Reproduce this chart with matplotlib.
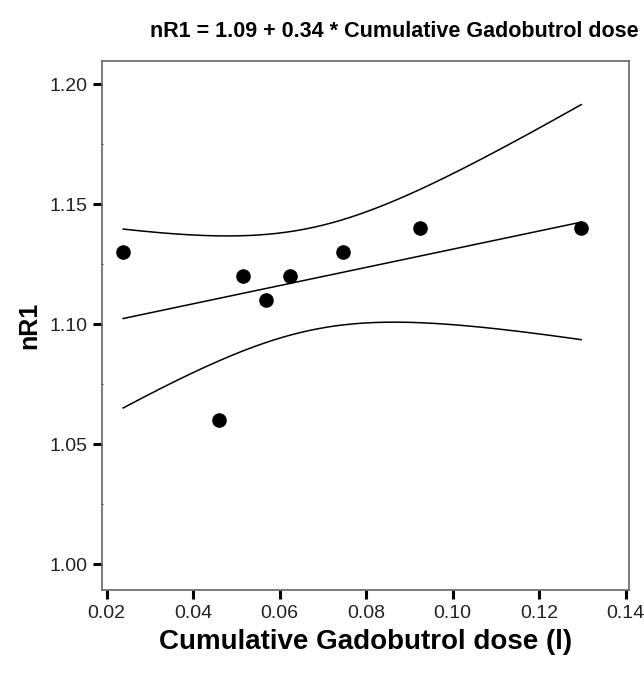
import numpy as np
import matplotlib
matplotlib.use("Agg")
import matplotlib.pyplot as plt
from matplotlib.ticker import MultipleLocator

# data
dose = [0.0238, 0.0460, 0.0515, 0.0569, 0.0624, 0.0747, 0.0924, 0.1297]
nr1 = [1.13, 1.06, 1.12, 1.11, 1.12, 1.13, 1.14, 1.14]
xticks = [0.02, 0.04, 0.06, 0.08, 0.10, 0.12, 0.14]
yticks = [1.00, 1.05, 1.10, 1.15, 1.20]

x = np.array(dose)
y = np.array(nr1)

# linear fit + 95% CI of the mean (t for df=6)
b, a = np.polyfit(x, y, 1)
n = len(x)
res = y - (a + b * x)
s = np.sqrt(np.sum(res**2) / (n - 2))
sxx = np.sum((x - x.mean())**2)
t = 2.447
xf = np.linspace(x.min(), x.max(), 200)
yf = a + b * xf
se = s * np.sqrt(1.0 / n + (xf - x.mean())**2 / sxx)

plt.rcParams['font.family'] = ['Liberation Sans', 'DejaVu Sans']

fig = plt.figure(figsize=(6.44, 6.76), dpi=100)
ax = fig.add_axes([0.1589, 0.1272, 0.8178, 0.7826])

ax.plot(xf, yf, 'k-', lw=1.1)
ax.plot(xf, yf + t * se, 'k-', lw=1.1)
ax.plot(xf, yf - t * se, 'k-', lw=1.1)
ax.plot(x, y, 'ko', ms=9.5)

ax.set_xlim(0.01898, 0.14076)
ax.set_ylim(0.9892, 1.2096)
ax.set_xticks(xticks)
ax.set_xticklabels(["%.2f" % v for v in xticks])
ax.set_yticks(yticks)
ax.set_yticklabels(["%.2f" % v for v in yticks])
ax.yaxis.set_minor_locator(MultipleLocator(0.025))

for sp in ax.spines.values():
    sp.set_color('#666666')
    sp.set_linewidth(1.2)

ax.tick_params(axis='both', which='major', direction='out', length=6.5, width=2.2,
               color='black', labelsize=14, pad=4, labelcolor='#222222')
ax.tick_params(axis='y', which='minor', direction='inout', length=2, width=0.8, color='#444444')
ax.tick_params(axis='x', which='minor', length=0)

ax.set_xlabel("Cumulative Gadobutrol dose (l)", fontsize=20, fontweight='bold', labelpad=5)
ax.set_ylabel("nR1", fontsize=18, fontweight='bold', labelpad=6)
fig.text(0.612, 0.953, "nR1 = 1.09 + 0.34 * Cumulative Gadobutrol dose", fontsize=15.5,
         fontweight='bold', ha='center', va='center')

plt.savefig('out.png', dpi=100)
